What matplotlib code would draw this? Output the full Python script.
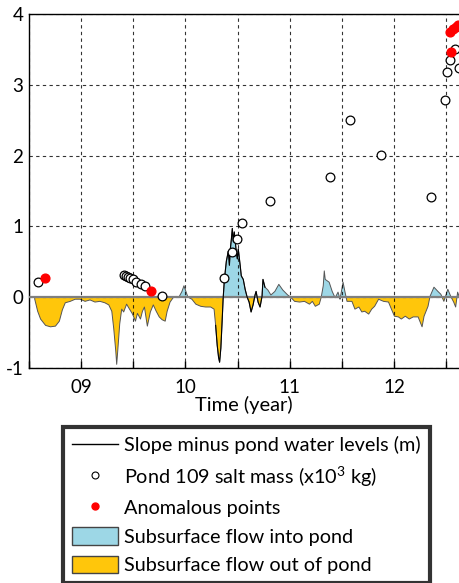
import numpy as np
import matplotlib
matplotlib.use("Agg")
import matplotlib.pyplot as plt
from matplotlib.lines import Line2D
from matplotlib.patches import Patch

plt.rcParams['font.family'] = ['Lato', 'DejaVu Sans']
plt.rcParams['mathtext.fontset'] = 'custom'
plt.rcParams['mathtext.rm'] = 'Lato'
plt.rcParams['mathtext.it'] = 'Lato'

# Slope minus pond water levels (m)
t_level = [8.555, 8.583, 8.611, 8.659, 8.706, 8.754, 8.791, 8.820, 8.848, 8.896,
           8.943, 8.991, 9.038, 9.085, 9.133, 9.180, 9.227, 9.265, 9.294, 9.313,
           9.332, 9.341, 9.351, 9.370, 9.389, 9.408, 9.436, 9.464, 9.493, 9.521,
           9.540, 9.569, 9.588, 9.607, 9.635, 9.664, 9.692, 9.720, 9.749, 9.777,
           9.806, 9.825, 9.853, 9.882, 9.910, 9.938, 9.967, 9.986, 10.005, 10.024,
           10.062, 10.100, 10.147, 10.194, 10.242, 10.275, 10.290, 10.305, 10.318, 10.328,
           10.340, 10.352, 10.362, 10.374, 10.393, 10.412, 10.422, 10.431, 10.441, 10.450,
           10.460, 10.469, 10.488, 10.498, 10.507, 10.526, 10.536, 10.555, 10.573, 10.592,
           10.611, 10.630, 10.649, 10.668, 10.678, 10.697, 10.716, 10.735, 10.744, 10.763,
           10.791, 10.820, 10.858, 10.896, 10.934, 10.981, 11.009, 11.047, 11.095, 11.142,
           11.190, 11.218, 11.246, 11.284, 11.303, 11.322, 11.332, 11.341, 11.379, 11.408,
           11.436, 11.464, 11.483, 11.512, 11.531, 11.550, 11.597, 11.626, 11.664, 11.692,
           11.720, 11.758, 11.787, 11.815, 11.853, 11.900, 11.948, 11.976, 12.005, 12.043,
           12.071, 12.109, 12.147, 12.185, 12.232, 12.270, 12.289, 12.327, 12.346, 12.384,
           12.422, 12.450, 12.479, 12.517, 12.545, 12.573, 12.592, 12.611, 12.625]
level = [-0.03, -0.20, -0.31, -0.40, -0.42, -0.41, -0.34, -0.18, -0.08, -0.06,
         -0.03, -0.03, -0.06, -0.04, -0.07, -0.06, -0.08, -0.11, -0.20, -0.45,
         -0.76, -0.95, -0.76, -0.38, -0.17, -0.21, -0.10, -0.17, -0.24, -0.34,
         -0.23, -0.31, -0.20, -0.14, -0.41, -0.21, -0.11, -0.20, -0.28, -0.32,
         -0.34, -0.20, -0.07, -0.01, 0.01, 0.00, 0.08, 0.16, 0.08, 0.00,
         -0.03, -0.10, -0.13, -0.14, -0.14, -0.17, -0.40, -0.68, -0.85, -0.92,
         -0.72, -0.35, -0.02, 0.25, 0.51, 0.65, 0.45, 0.68, 0.82, 0.97,
         0.78, 0.92, 0.64, 0.54, 0.68, 0.44, 0.30, 0.25, 0.11, 0.00,
         -0.07, -0.21, -0.11, 0.03, 0.08, -0.07, -0.14, 0.01, 0.25, 0.14,
         0.10, 0.03, 0.08, 0.18, 0.10, 0.03, 0.00, -0.06, -0.07, -0.06,
         -0.10, -0.06, -0.13, -0.10, 0.00, 0.16, 0.37, 0.25, 0.21, 0.08,
         -0.01, 0.07, -0.03, 0.21, 0.07, -0.06, -0.06, -0.17, -0.14, -0.21,
         -0.20, -0.24, -0.17, -0.13, -0.03, -0.06, -0.07, -0.17, -0.27, -0.28,
         -0.31, -0.27, -0.31, -0.28, -0.28, -0.42, -0.27, -0.13, 0.01, 0.14,
         0.08, 0.04, -0.06, 0.11, 0.01, -0.07, -0.14, 0.07, 0.01]

# Pond 109 salt mass (x10^3 kg)
t_salt = [8.583, 9.410, 9.430, 9.450, 9.470, 9.500, 9.530, 9.570, 9.610, 9.777,
          10.374, 10.450, 10.498, 10.545, 10.810, 11.389, 11.578, 11.872, 12.355,
          12.488, 12.507, 12.536, 12.583, 12.620]
salt = [0.21, 0.31, 0.30, 0.29, 0.27, 0.25, 0.22, 0.19, 0.15, 0.01,
        0.27, 0.64, 0.82, 1.05, 1.36, 1.69, 2.50, 2.01, 1.41,
        2.78, 3.18, 3.35, 3.50, 3.23]

# Anomalous points
t_anom = [8.649, 9.673, 12.545, 12.536, 12.564, 12.592, 12.611]
anom = [0.27, 0.085, 3.46, 3.74, 3.79, 3.81, 3.84]

x_ticks = [9, 10, 11, 12]
x_ticklabels = ['09', '10', '11', '12']
y_ticks = [-1, 0, 1, 2, 3, 4]

fig = plt.figure(figsize=(4.59, 5.83), dpi=100)
ax = fig.add_axes([0.0632, 0.369, 0.937, 0.607])

t = np.array(t_level)
v = np.array(level)
blue = '#9dd7e6'
orange = '#ffc60b'
ax.fill_between(t, v, 0, where=v >= 0, interpolate=True, facecolor=blue,
                edgecolor='#555555', linewidth=0.7, zorder=2)
ax.fill_between(t, v, 0, where=v <= 0, interpolate=True, facecolor=orange,
                edgecolor='#555555', linewidth=0.7, zorder=2)
ax.axhline(0, color='#7f7f7f', linewidth=1.6, zorder=3)
seg = (t >= 10.29) & (t <= 10.77)
ax.plot(t[seg], v[seg], color='black', linewidth=0.8, zorder=4)

ax.plot(t_salt, salt, linestyle='none', marker='o', markersize=6.3,
        markerfacecolor='white', markeredgecolor='black', markeredgewidth=0.9,
        zorder=5, clip_on=True)
ax.plot(t_anom, anom, linestyle='none', marker='o', markersize=6.3,
        markerfacecolor='red', markeredgecolor='red', zorder=6)

ax.set_xlim(8.555, 12.625)
ax.set_ylim(-1, 4)
xt = np.arange(8.5, 13.0, 0.5)
ax.set_xticks(xt)
lab = []
for x in xt:
    k = int(round(x))
    lab.append(x_ticklabels[x_ticks.index(k)] if abs(x - k) < 0.1 and k in x_ticks else '')
ax.set_xticklabels(lab)
ax.set_yticks(y_ticks)
ax.set_yticklabels([str(y) for y in y_ticks])
ax.tick_params(axis='x', direction='in', length=5, width=1, labelsize=13.5, pad=8)
ax.tick_params(axis='y', length=0, labelsize=13.5, pad=4)
ax.grid(True, color='black', linestyle=(0, (3, 3)), linewidth=0.8, alpha=0.8)
ax.set_axisbelow(False)
for s in ['left', 'bottom', 'top']:
    ax.spines[s].set_linewidth(1.0)
ax.spines['right'].set_visible(False)
ax.set_xlabel('Time (year)', fontsize=14.5, labelpad=0)

handles = [
    Line2D([], [], color='black', linewidth=1.0),
    Line2D([], [], linestyle='none', marker='o', markersize=5, markerfacecolor='white',
           markeredgecolor='black', markeredgewidth=0.8),
    Line2D([], [], linestyle='none', marker='o', markersize=5, markerfacecolor='red',
           markeredgecolor='red'),
    Patch(facecolor=blue, edgecolor='#444444', linewidth=1.0),
    Patch(facecolor=orange, edgecolor='#444444', linewidth=1.0),
]
labels = ['Slope minus pond water levels (m)',
          r'Pond 109 salt mass (x10$^3$ kg)',
          'Anomalous points',
          'Subsurface flow into pond',
          'Subsurface flow out of pond']
leg = fig.legend(handles, labels, loc='upper left', bbox_to_anchor=(0.137, 0.268),
                 bbox_transform=fig.transFigure, fontsize=14.3, frameon=True,
                 fancybox=False, edgecolor='black', handlelength=2.3,
                 handleheight=1.0, labelspacing=0.5, borderpad=0.45,
                 handletextpad=0.35, borderaxespad=0)
leg.get_frame().set_linewidth(3)

fig.savefig('out.png', dpi=100)
